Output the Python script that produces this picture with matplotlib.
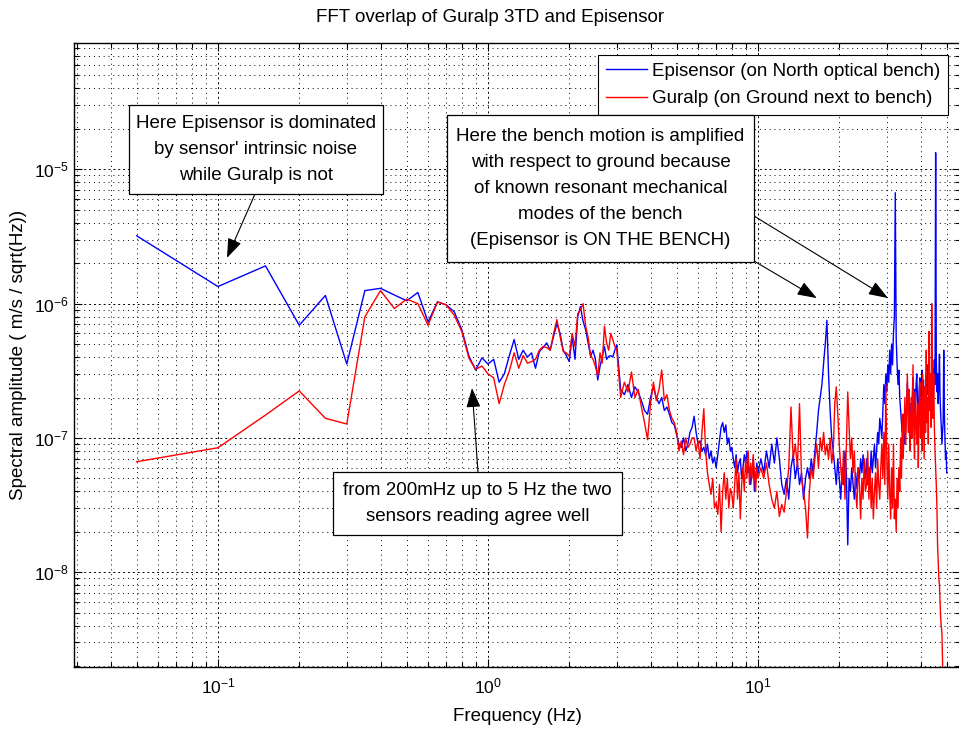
import matplotlib.pyplot as plt
from matplotlib.patches import Rectangle
from matplotlib.ticker import NullFormatter

plt.rcParams['font.family'] = ['Liberation Sans', 'DejaVu Sans']
plt.rcParams['mathtext.fontset'] = 'custom'
plt.rcParams['mathtext.rm'] = 'Liberation Sans'
plt.rcParams['mathtext.default'] = 'regular'
plt.rcParams['axes.unicode_minus'] = False

# spectra, values in units of 1e-7 m/s/sqrt(Hz)
freq_lo = [0.05, 0.1, 0.15, 0.2, 0.25, 0.3, 0.35, 0.4, 0.45, 0.5,
           0.55, 0.6, 0.65, 0.7, 0.75, 0.8, 0.85, 0.9, 0.95, 1.0,
           1.05, 1.1, 1.15, 1.2, 1.25, 1.3, 1.35, 1.4, 1.45, 1.5,
           1.55, 1.6, 1.65, 1.7, 1.75, 1.8, 1.85, 1.9, 1.95, 2.0,
           2.05, 2.1, 2.15, 2.2, 2.25, 2.3, 2.35, 2.4, 2.45, 2.5,
           2.55, 2.6, 2.65, 2.7, 2.75, 2.8, 2.85, 2.9, 2.95, 3.0]
epi_lo = [32, 13.4, 19.1, 6.9, 11.5, 3.55, 12.5, 13.0, 11.6, 10.5,
          12.1, 7.3, 10.3, 9.8, 8.7, 6.4, 4.07, 3.2, 3.95, 3.55,
          3.85, 2.6, 3.0, 4.1, 5.4, 3.85, 4.5, 4.0, 4.3, 3.3,
          4.4, 4.7, 5.1, 4.5, 5.7, 7.1, 6.0, 4.5, 4.1, 3.7,
          5.7, 3.85, 8.0, 9.5, 7.4, 6.4, 5.1, 4.05, 4.5, 3.85,
          2.7, 3.4, 4.05, 4.8, 3.85, 4.05, 4.1, 4.0, 4.5, 4.95]
gur_lo = [0.665, 0.845, 1.48, 2.24, 1.40, 1.27, 7.97, 12.5, 9.2, 10.8,
          10.0, 6.9, 10.3, 9.8, 8.2, 6.2, 3.92, 3.24, 3.43, 3.0,
          2.8, 1.8, 2.5, 3.15, 4.3, 3.3, 4.1, 3.6, 3.7, 3.85,
          4.5, 4.8, 4.7, 4.5, 6.0, 7.6, 5.7, 4.4, 4.3, 4.05,
          6.0, 4.8, 8.4, 9.0, 10.0, 6.8, 5.6, 4.1, 3.85, 3.4,
          2.9, 4.3, 3.6, 6.8, 5.1, 4.5, 6.0, 5.4, 4.8, 4.5]

freq_mid = [3.1, 3.2, 3.3, 3.4, 3.5, 3.6, 3.7, 3.8, 3.9,
            4.0, 4.1, 4.2, 4.3, 4.4, 4.5, 4.6, 4.7, 4.8, 4.9,
            5.0, 5.1, 5.2, 5.3, 5.4, 5.5, 5.6, 5.7, 5.8, 5.9,
            6.0, 6.1, 6.2, 6.3, 6.4, 6.5, 6.6, 6.7, 6.8, 6.9,
            7.0, 7.1, 7.2, 7.3, 7.4, 7.5, 7.6, 7.7, 7.8, 7.9,
            8.0, 8.1, 8.2, 8.3, 8.4, 8.5, 8.6, 8.7, 8.8, 8.9,
            9.0, 9.1, 9.2, 9.3, 9.4, 9.5, 9.6, 9.7, 9.8, 9.9, 10.0]
epi_mid = [2.3, 2.1, 2.5, 2.0, 2.4, 2.2, 1.9, 1.6, 1.5,
           2.0, 2.4, 2.0, 1.8, 2.0, 1.6, 1.7, 1.5, 1.3, 1.25,
           1.05, 0.9, 0.85, 1.0, 0.8, 0.9, 1.1, 1.2, 1.45, 1.1,
           0.9, 0.95, 0.8, 0.85, 0.75, 0.9, 0.7, 0.8, 0.65, 0.72,
           0.6, 0.75, 0.95, 1.2, 1.3, 1.1, 1.25, 0.9, 1.0, 0.8,
           0.85, 0.7, 0.6, 0.75, 0.55, 0.65, 0.7, 0.5, 0.6, 0.75,
           0.65, 0.8, 0.55, 0.6, 0.45, 0.55, 0.7, 0.4, 0.5, 0.65, 0.55]
gur_mid = [2.0, 2.6, 2.2, 3.1, 2.0, 2.3, 1.7, 1.3, 0.97,
           1.8, 2.6, 1.9, 2.3, 3.2, 1.9, 2.1, 1.6, 1.4, 1.3,
           1.1, 0.8, 0.95, 0.75, 1.0, 0.85, 0.9, 1.0, 1.0, 0.8,
           0.95, 0.7, 1.1, 1.65, 0.8, 0.55, 0.45, 0.38, 0.5, 0.3,
           0.33, 0.27, 0.45, 0.2, 0.4, 0.55, 0.35, 0.5, 0.3, 0.42,
           0.38, 0.3, 0.45, 0.7, 0.35, 0.55, 0.25, 0.45, 0.6, 0.4,
           0.7, 0.5, 0.8, 0.45, 0.65, 0.5, 0.75, 0.55, 0.4, 0.6, 0.5]

freq_hi = [10.25, 10.5, 10.75, 11, 11.25, 11.5, 11.75, 12, 12.25, 12.5, 12.75, 13,
           13.25, 13.5, 13.75, 14, 14.25, 14.5, 14.75, 15, 15.25, 15.5, 15.75, 16,
           16.25, 16.5, 16.75, 17, 17.25, 17.5, 17.75, 18, 18.25, 18.5, 18.75, 19,
           19.25, 19.5, 19.75, 20, 20.25, 20.5, 20.75, 21, 21.25, 21.5, 21.75, 22,
           22.25, 22.5, 22.75, 23, 23.25, 23.5, 23.75, 24, 24.25, 24.5, 24.75, 25,
           25.25, 25.5, 25.75, 26, 26.25, 26.5, 26.75, 27, 27.25, 27.5, 27.75, 28,
           28.25, 28.5, 28.75, 29, 29.25, 29.5, 29.75, 30, 30.25, 30.5, 30.75, 31,
           31.25, 31.5, 31.75, 32, 32.25, 32.5, 32.75, 33, 33.25, 33.5, 33.75, 34,
           34.25, 34.5, 34.75, 35, 35.25, 35.5, 35.75, 36, 36.25, 36.5, 36.75, 37,
           37.25, 37.5, 37.75, 38, 38.25, 38.5, 38.75, 39, 39.25, 39.5, 39.75, 40,
           40.25, 40.5, 40.75, 41, 41.25, 41.5, 41.75, 42, 42.25, 42.5, 42.75, 43,
           43.25, 43.5, 43.75, 44, 44.25, 44.5, 44.75, 45, 45.25, 45.5, 45.75, 46,
           46.25, 46.5, 46.75, 47, 47.25, 47.5, 47.75, 48, 48.25, 48.5, 48.75, 49,
           49.25, 49.5, 49.75, 50]
epi_hi = [0.7, 0.55, 0.8, 0.6, 0.9, 0.65, 1.0, 0.7, 0.45, 0.38, 0.5, 0.35,
          0.6, 0.75, 0.5, 0.65, 0.45, 0.55, 0.35, 0.5, 0.6, 0.5, 0.7, 0.55,
          0.8, 1.1, 1.6, 2.0, 2.5, 3.6, 5.0, 7.5, 3.0, 1.6, 1.0, 0.8,
          0.6, 0.45, 0.7, 0.5, 0.35, 0.6, 0.45, 0.8, 0.55, 0.16, 0.5, 0.4,
          0.6, 0.45, 0.35, 0.55, 0.42, 0.6, 0.5, 0.7, 0.55, 0.75, 0.6, 0.5,
          0.7, 0.45, 0.6, 0.5, 0.8, 0.55, 0.7, 0.9, 0.6, 0.8, 1.1, 0.9,
          1.4, 1.2, 1.0, 1.6, 2.5, 1.8, 3.0, 2.2, 3.5, 2.6, 4.5, 3.0,
          5.0, 3.5, 6.0, 8.0, 67, 5.5, 3.5, 2.5, 3.2, 2.0, 1.6, 1.3,
          1.1, 1.5, 1.0, 0.9, 1.2, 1.8, 2.6, 1.7, 2.2, 1.4, 1.8, 1.2,
          2.0, 2.8, 1.5, 2.3, 1.6, 2.5, 3.0, 1.8, 1.3, 2.2, 2.8, 1.5,
          2.5, 3.2, 1.8, 2.7, 2.0, 1.4, 2.4, 3.0, 2.1, 3.5, 2.6, 1.9,
          3.0, 2.2, 1.6, 2.5, 3.3, 2.0, 2.6, 3.8, 2.5, 133, 4.0, 2.2,
          3.0, 1.8, 2.6, 4.2, 2.0, 1.5, 1.2, 0.9, 1.1, 1.3, 4.5, 1.6,
          1.0, 0.7, 0.8, 0.55]
gur_hi = [0.6, 0.5, 0.65, 0.45, 0.35, 0.3, 0.4, 0.26, 0.32, 0.28, 0.4, 0.6,
          1.7, 0.7, 0.9, 0.6, 1.8, 0.5, 0.4, 0.3, 0.18, 0.4, 0.6, 0.5,
          0.7, 0.9, 0.6, 1.0, 0.8, 1.1, 0.75, 0.9, 0.7, 1.0, 0.65, 0.8,
          1.8, 2.4, 1.5, 0.9, 0.6, 0.45, 0.8, 0.35, 0.9, 2.2, 1.2, 0.7,
          1.0, 0.55, 0.8, 0.4, 0.3, 0.6, 0.45, 0.25, 0.5, 0.35, 0.7, 0.4,
          0.45, 0.8, 0.35, 0.6, 0.3, 0.5, 0.25, 0.4, 0.55, 0.3, 0.7, 0.45,
          0.35, 0.6, 0.9, 0.5, 1.1, 0.45, 2.5, 0.7, 0.35, 0.9, 0.4, 0.25,
          0.6, 0.3, 0.9, 0.25, 0.35, 0.2, 0.5, 0.3, 0.6, 0.4, 1.0, 0.5,
          1.5, 0.7, 1.2, 2.0, 0.9, 1.6, 3.0, 1.1, 2.3, 0.8, 1.4, 2.0,
          1.0, 3.5, 1.2, 0.7, 2.2, 1.3, 0.9, 1.8, 0.6, 1.5, 2.6, 1.0,
          1.9, 0.8, 3.0, 1.4, 0.7, 2.4, 1.1, 4.5, 1.3, 2.0, 0.9, 6.2,
          1.6, 3.0, 1.2, 10.0, 2.5, 1.4, 3.0, 1.2, 0.8, 0.6, 0.45, 0.3,
          0.16, 0.12, 0.09, 0.08, 0.06, 0.045, 0.04, 0.035, 0.022, 0.012, 0.006, 0.003,
          0.0015, 0.001, 0.0008, 0.0006]

freq = freq_lo + freq_mid + freq_hi
epi = [v * 1e-7 for v in epi_lo + epi_mid + epi_hi]
gur = [v * 1e-7 for v in gur_lo + gur_mid + gur_hi]

W, H = 959, 731
fig = plt.figure(figsize=(W / 100, H / 100), dpi=100)
ax = fig.add_axes([74 / W, 1 - 667 / H, (960 - 74) / W, (667 - 43) / H])

ax.loglog(freq, epi, color='#0000ff', lw=1.0, label='Episensor (on North optical bench)')
ax.loglog(freq, gur, color='#ff0000', lw=1.0, label='Guralp (on Ground next to bench)')
ax.set_xlim(0.0293, 56.0)
ax.set_ylim(1.97e-9, 8.72e-5)

ax.grid(True, which='major', color='k', linestyle=(0, (2, 3)), lw=0.7)
ax.grid(True, which='minor', color='k', linestyle=(0, (1, 4)), lw=0.7)
ax.xaxis.set_minor_formatter(NullFormatter())
ax.yaxis.set_minor_formatter(NullFormatter())
ax.tick_params(which='both', direction='in', top=True, right=True, width=0.8)
ax.tick_params(which='major', length=6, labelsize=12.5)
ax.tick_params(which='minor', length=3.5)
ax.tick_params(axis='x', pad=7)
ax.tick_params(axis='y', pad=4)
for sp in ax.spines.values():
    sp.set_linewidth(1.0)

ax.set_xlabel('Frequency (Hz)', fontsize=13.5)
ax.xaxis.set_label_coords(0.5, -0.066)
ax.set_ylabel('Spectral amplitude ( m/s / sqrt(Hz))', fontsize=13.5)
ax.yaxis.set_label_coords(-0.053, 0.5)
fig.text(490 / W, 1 - 17 / H, 'FFT overlap of Guralp 3TD and Episensor',
         ha='center', va='center', fontsize=13.5)

leg = ax.legend(loc='upper right', bbox_to_anchor=(948 / W, 1 - 55 / H),
                bbox_transform=fig.transFigure, fontsize=13.5, fancybox=False,
                edgecolor='k', framealpha=1, handlelength=2.2, handletextpad=0.27,
                borderpad=0.4, labelspacing=0.55, borderaxespad=0)
leg.get_frame().set_linewidth(0.8)


def note(x0, y0, x1, y1, text):
    fig.add_artist(Rectangle((x0 / W, 1 - y1 / H), (x1 - x0) / W, (y1 - y0) / H,
                             transform=fig.transFigure, fc='white', ec='k',
                             lw=0.9, zorder=6))
    fig.text((x0 + x1) / 2 / W, 1 - (y0 + y1) / 2 / H, text, ha='center',
             va='center', multialignment='center', fontsize=13.5,
             linespacing=1.7, zorder=7)


def arrow(xy, x0, y0):
    ax.annotate('', xy=xy, xycoords='data', xytext=(x0 / W, 1 - y0 / H),
                textcoords='figure fraction',
                arrowprops=dict(arrowstyle='-|>,head_length=0.6,head_width=0.22',
                                color='k', lw=0.8, shrinkA=0, shrinkB=0,
                                mutation_scale=20))


note(129, 105, 383, 194, "Here Episensor is dominated\nby sensor' intrinsic noise\nwhile Guralp is not")
arrow((0.108, 2.19e-6), 255, 194)

note(447, 115, 754, 262, "Here the bench motion is amplified\nwith respect to ground because\n"
     "of known resonant mechanical\nmodes of the bench\n(Episensor is ON THE BENCH)")
arrow((30.3, 1.10e-6), 754, 216)
arrow((16.5, 1.10e-6), 754, 261)

note(333, 472, 622, 535, "from 200mHz up to 5 Hz the two\nsensors reading agree well")
arrow((0.873, 2.35e-7), 478, 472)

fig.savefig('out.png', dpi=100)
